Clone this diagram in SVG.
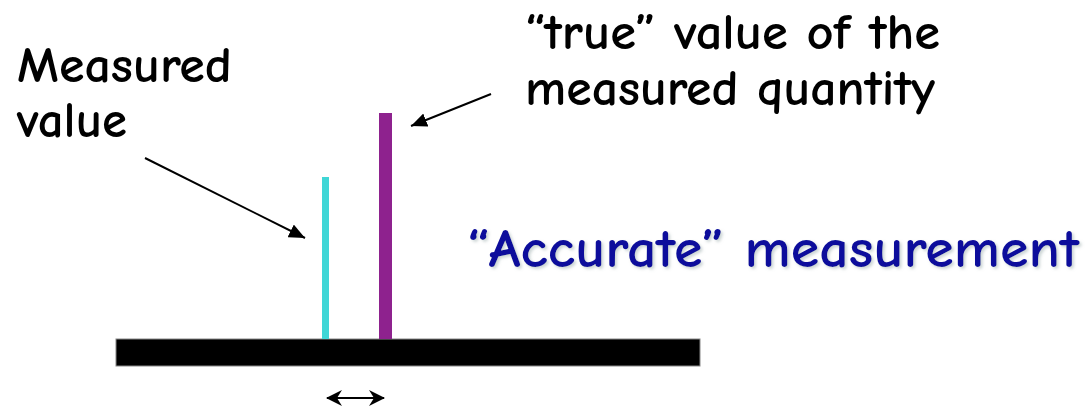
<svg xmlns="http://www.w3.org/2000/svg" width="1086" height="409" viewBox="0 0 1086 409">
  <defs>
    <marker id="head" viewBox="0 0 16 14" refX="16" refY="7" markerWidth="16" markerHeight="14" markerUnits="userSpaceOnUse" orient="auto">
      <path d="M0,0 L16,7 L0,14 Z" fill="#000"/>
    </marker>
    <marker id="small" viewBox="0 0 16 16" refX="15" refY="8" markerWidth="16" markerHeight="16" markerUnits="userSpaceOnUse" orient="auto-start-reverse">
      <path d="M0,0 L16,8 L0,16 L5,8 Z" fill="#000"/>
    </marker>
    <filter id="shadow" x="-5%" y="-20%" width="110%" height="140%">
      <feDropShadow dx="2" dy="2" stdDeviation="1.5" flood-color="#9aa" flood-opacity="0.5"/>
    </filter>
  </defs>
  <style>
    .lbl { font-family: "Comic Neue", "Open Sans", "DejaVu Sans", sans-serif; font-size: 51px; font-weight: 700; fill: #000; }
    .big { font-family: "Comic Neue", "Open Sans", "DejaVu Sans", sans-serif; font-size: 55px; font-weight: 700; fill: #0a0a9c; }
    .conn { stroke: #000; stroke-width: 2; fill: none; }
  </style>
  <rect width="1086" height="409" fill="#fff"/>

  <g id="baseline">
    <rect x="116" y="339" width="584" height="27" fill="#000" stroke="#888" stroke-width="1"/>
  </g>
  <g id="measured-bar">
    <rect x="322" y="177" width="7" height="162" fill="#3fd6d6"/>
  </g>
  <g id="true-bar">
    <rect x="379" y="113" width="13" height="226" fill="#8e228e"/>
  </g>

  <g id="label-measured">
    <text class="lbl" x="17" y="82" textLength="215" lengthAdjust="spacingAndGlyphs">Measured</text>
    <text class="lbl" x="17" y="137" textLength="110" lengthAdjust="spacingAndGlyphs">value</text>
  </g>
  <g id="label-true">
    <text class="lbl" x="525" y="49" textLength="415" lengthAdjust="spacingAndGlyphs">“true” value of the</text>
    <text class="lbl" x="525" y="105" textLength="410" lengthAdjust="spacingAndGlyphs">measured quantity</text>
  </g>
  <g id="label-accurate">
    <text class="big" x="467" y="267" textLength="612" lengthAdjust="spacingAndGlyphs" filter="url(#shadow)">“Accurate” measurement</text>
  </g>

  <g id="connectors">
    <line class="conn" x1="145" y1="158" x2="305" y2="238" marker-end="url(#head)"/>
    <line class="conn" x1="491" y1="94" x2="411" y2="126" marker-end="url(#head)"/>
    <line class="conn" x1="327" y1="398" x2="384" y2="398" stroke-width="3" marker-start="url(#small)" marker-end="url(#small)"/>
  </g>
</svg>
